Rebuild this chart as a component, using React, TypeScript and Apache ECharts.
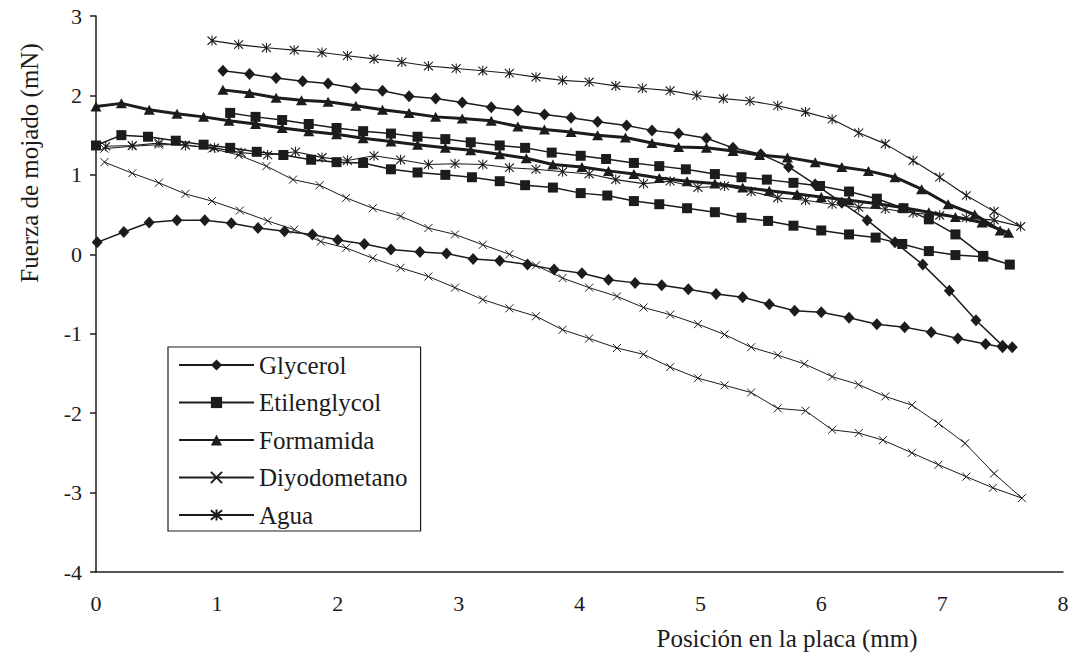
import React, { useEffect, useRef } from 'react';
import * as echarts from 'echarts';

const FONT = 'Liberation Serif';
const INK = '#1c1c1c';

const seriesNames = ['Glycerol', 'Etilenglycol', 'Formamida', 'Diyodometano', 'Agua'];
const yAxisTitle = 'Fuerza de mojado (mN)';
const xAxisTitle = 'Posición en la placa (mm)';

// Glycerol: advancing branch (left -> right), then receding branch (right -> left)
const glycerolLower = [
  [0.01, 0.15], [0.23, 0.28], [0.44, 0.4], [0.67, 0.43], [0.9, 0.43], [1.12, 0.39], [1.34, 0.33], [1.56, 0.29],
  [1.79, 0.25], [2.0, 0.18], [2.22, 0.13], [2.44, 0.06], [2.68, 0.03], [2.9, 0.01], [3.12, -0.06], [3.34, -0.08],
  [3.57, -0.13], [3.79, -0.19], [4.02, -0.24], [4.24, -0.32], [4.46, -0.36], [4.68, -0.39], [4.9, -0.44],
  [5.13, -0.5], [5.35, -0.54], [5.57, -0.63], [5.78, -0.71], [6.0, -0.73], [6.23, -0.8], [6.46, -0.88],
  [6.69, -0.92], [6.91, -0.98], [7.13, -1.06], [7.36, -1.13], [7.5, -1.17], [7.58, -1.17],
];
const glycerolUpper = [
  [7.5, -1.15], [7.28, -0.83], [7.06, -0.46], [6.84, -0.13], [6.61, 0.15], [6.38, 0.43], [6.17, 0.65],
  [5.95, 0.88], [5.73, 1.1], [5.5, 1.26], [5.27, 1.34], [5.05, 1.46], [4.82, 1.52], [4.6, 1.56], [4.39, 1.62],
  [4.15, 1.67], [3.93, 1.72], [3.71, 1.76], [3.49, 1.81], [3.27, 1.85], [3.03, 1.91], [2.81, 1.96], [2.59, 1.99],
  [2.37, 2.06], [2.15, 2.09], [1.92, 2.15], [1.71, 2.18], [1.49, 2.22], [1.27, 2.27], [1.05, 2.31],
];

const etilenglycolLower = [
  [0.0, 1.37], [0.21, 1.5], [0.43, 1.48], [0.66, 1.43], [0.89, 1.38], [1.11, 1.34], [1.33, 1.29], [1.55, 1.25],
  [1.78, 1.19], [1.99, 1.16], [2.21, 1.15], [2.44, 1.07], [2.66, 1.03], [2.89, 1.0], [3.11, 0.97], [3.34, 0.92],
  [3.55, 0.87], [3.78, 0.84], [4.01, 0.77], [4.23, 0.74], [4.45, 0.67], [4.66, 0.63], [4.89, 0.58], [5.12, 0.53],
  [5.34, 0.46], [5.56, 0.42], [5.77, 0.36], [6.0, 0.3], [6.23, 0.25], [6.45, 0.21], [6.67, 0.13], [6.89, 0.04],
  [7.11, -0.01], [7.34, -0.03], [7.56, -0.13],
];
const etilenglycolUpper = [
  [7.34, -0.02], [7.11, 0.25], [6.89, 0.44], [6.68, 0.58], [6.46, 0.7], [6.23, 0.79], [5.99, 0.86], [5.77, 0.9],
  [5.55, 0.94], [5.34, 0.97], [5.12, 1.01], [4.88, 1.07], [4.66, 1.11], [4.45, 1.15], [4.22, 1.2], [4.01, 1.24],
  [3.77, 1.28], [3.55, 1.34], [3.34, 1.37], [3.1, 1.41], [2.89, 1.45], [2.66, 1.48], [2.44, 1.52], [2.21, 1.55],
  [1.99, 1.59], [1.76, 1.64], [1.54, 1.69], [1.32, 1.73], [1.11, 1.78],
];

const formamidaLower = [
  [0.0, 1.86], [0.21, 1.9], [0.44, 1.82], [0.67, 1.77], [0.89, 1.73], [1.1, 1.68], [1.32, 1.64], [1.54, 1.59],
  [1.76, 1.55], [1.99, 1.51], [2.21, 1.46], [2.44, 1.42], [2.66, 1.38], [2.89, 1.34], [3.1, 1.31], [3.34, 1.26],
  [3.56, 1.21], [3.78, 1.13], [4.02, 1.1], [4.24, 1.05], [4.45, 1.01], [4.66, 0.96], [4.89, 0.92], [5.12, 0.89],
  [5.35, 0.84], [5.57, 0.8], [5.8, 0.76], [6.0, 0.72], [6.23, 0.68], [6.45, 0.64], [6.67, 0.59], [6.89, 0.53],
  [7.11, 0.47], [7.33, 0.4], [7.55, 0.27],
];
const formamidaUpper = [
  [7.48, 0.3], [7.27, 0.5], [7.05, 0.63], [6.83, 0.82], [6.61, 0.97], [6.39, 1.05], [6.17, 1.1], [5.95, 1.16],
  [5.72, 1.22], [5.49, 1.25], [5.27, 1.3], [5.05, 1.34], [4.82, 1.35], [4.6, 1.4], [4.38, 1.47], [4.15, 1.5],
  [3.93, 1.54], [3.71, 1.57], [3.49, 1.61], [3.27, 1.68], [3.03, 1.71], [2.81, 1.73], [2.59, 1.78], [2.37, 1.82],
  [2.15, 1.87], [1.92, 1.92], [1.7, 1.94], [1.49, 1.97], [1.27, 2.03], [1.05, 2.07],
];

const diyodometanoLower = [
  [0.07, 1.16], [0.3, 1.02], [0.52, 0.9], [0.74, 0.76], [0.96, 0.67], [1.19, 0.55], [1.42, 0.42], [1.64, 0.31],
  [1.86, 0.16], [2.07, 0.08], [2.29, -0.05], [2.52, -0.17], [2.75, -0.28], [2.97, -0.42], [3.2, -0.57],
  [3.42, -0.68], [3.64, -0.78], [3.86, -0.95], [4.08, -1.06], [4.31, -1.18], [4.53, -1.26], [4.75, -1.42],
  [4.98, -1.56], [5.2, -1.65], [5.42, -1.74], [5.64, -1.94], [5.87, -1.97], [6.09, -2.21], [6.31, -2.25],
  [6.51, -2.34], [6.75, -2.5], [6.97, -2.65], [7.2, -2.8], [7.42, -2.94], [7.66, -3.07],
];
const diyodometanoUpper = [
  [7.43, -2.76], [7.19, -2.38], [6.97, -2.13], [6.75, -1.9], [6.53, -1.79], [6.31, -1.64], [6.09, -1.54],
  [5.86, -1.38], [5.64, -1.27], [5.42, -1.17], [5.2, -1.01], [4.98, -0.88], [4.75, -0.76], [4.53, -0.67],
  [4.31, -0.53], [4.08, -0.42], [3.86, -0.3], [3.64, -0.14], [3.42, 0.0], [3.2, 0.12], [2.97, 0.25], [2.75, 0.33],
  [2.52, 0.48], [2.29, 0.58], [2.07, 0.71], [1.85, 0.87], [1.63, 0.94], [1.41, 1.11], [1.18, 1.25], [0.96, 1.33],
  [0.74, 1.38], [0.52, 1.38], [0.3, 1.36], [0.07, 1.33],
];

const aguaLower = [
  [0.08, 1.36], [0.3, 1.37], [0.52, 1.4], [0.74, 1.37], [0.98, 1.34], [1.2, 1.28], [1.42, 1.25], [1.65, 1.29],
  [1.87, 1.22], [2.08, 1.18], [2.3, 1.24], [2.52, 1.19], [2.75, 1.13], [2.97, 1.14], [3.2, 1.13], [3.42, 1.09],
  [3.64, 1.07], [3.86, 1.04], [4.08, 1.01], [4.3, 0.94], [4.53, 0.89], [4.75, 0.92], [4.98, 0.84], [5.2, 0.86],
  [5.42, 0.79], [5.64, 0.71], [5.87, 0.68], [6.09, 0.63], [6.31, 0.59], [6.53, 0.57], [6.76, 0.52], [6.98, 0.49],
  [7.2, 0.46], [7.43, 0.43], [7.65, 0.35],
];
const aguaUpper = [
  [7.43, 0.54], [7.2, 0.74], [6.98, 0.97], [6.76, 1.18], [6.53, 1.39], [6.31, 1.53], [6.09, 1.7], [5.87, 1.79],
  [5.64, 1.87], [5.41, 1.93], [5.19, 1.96], [4.97, 2.0], [4.75, 2.06], [4.52, 2.09], [4.3, 2.12], [4.08, 2.17],
  [3.86, 2.19], [3.64, 2.23], [3.42, 2.28], [3.2, 2.31], [2.98, 2.34], [2.75, 2.37], [2.53, 2.42], [2.3, 2.46],
  [2.08, 2.5], [1.87, 2.54], [1.64, 2.57], [1.41, 2.6], [1.18, 2.64], [0.96, 2.69],
];

const seriesData = [
  [...glycerolLower, ...glycerolUpper],
  [...etilenglycolLower, ...etilenglycolUpper],
  [...formamidaLower, ...formamidaUpper],
  [...diyodometanoLower, ...diyodometanoUpper],
  [...aguaLower, ...aguaUpper],
];

const CROSS = 'path://M0,0L10,10M10,0L0,10';
const STAR = 'path://M0,1L10,11M10,1L0,11M5,0L5,12';

const seriesStyles = [
  { symbol: 'diamond', symbolSize: [11, 12], width: 1.5, border: 0 },
  { symbol: 'rect', symbolSize: 10, width: 1.5, border: 0 },
  { symbol: 'triangle', symbolSize: [11, 10], width: 3, border: 0 },
  { symbol: CROSS, symbolSize: 8, width: 1, border: 1 },
  { symbol: STAR, symbolSize: [9, 10], width: 1.1, border: 1.1 },
];

export default function App() {
  const ref = useRef<HTMLDivElement>(null);
  useEffect(() => {
    if (!ref.current) return;
    const chart = echarts.init(ref.current, undefined, { renderer: 'svg' });
    const axisLineStyle = { color: INK, width: 1.5 };
    const option = {
      animation: false,
      backgroundColor: '#ffffff',
      textStyle: { fontFamily: FONT },
      grid: { left: 96, right: 14, top: 16, bottom: 85, containLabel: false },
      xAxis: {
        type: 'value', min: 0, max: 8, interval: 1,
        axisLine: { show: true, onZero: false, lineStyle: axisLineStyle },
        axisTick: { show: false },
        splitLine: { show: false },
        axisLabel: { color: INK, fontFamily: FONT, fontSize: 22, margin: 20 },
      },
      yAxis: {
        type: 'value', min: -4, max: 3, interval: 1,
        axisLine: { show: true, onZero: false, lineStyle: axisLineStyle },
        axisTick: { show: true, length: 6, lineStyle: axisLineStyle },
        splitLine: { show: false },
        axisLabel: { color: INK, fontFamily: FONT, fontSize: 22, margin: 14 },
      },
      legend: {
        orient: 'vertical', left: 168, top: 347,
        padding: [5, 13, 3, 10],
        itemWidth: 75, itemHeight: 14, itemGap: 11.5,
        borderColor: INK, borderWidth: 1.2, backgroundColor: '#ffffff',
        selectedMode: false,
        textStyle: { color: INK, fontFamily: FONT, fontSize: 25, lineHeight: 26 },
        data: seriesNames,
      },
      graphic: [
        {
          type: 'text', x: 29, y: 163, rotation: Math.PI / 2,
          style: { text: yAxisTitle, fontFamily: FONT, fontSize: 25, fill: INK, align: 'center', verticalAlign: 'middle' },
        },
        {
          type: 'text', x: 787, y: 638,
          style: { text: xAxisTitle, fontFamily: FONT, fontSize: 25, fill: INK, align: 'center', verticalAlign: 'middle' },
        },
      ],
      series: seriesNames.map((name, i) => ({
        name,
        type: 'line',
        data: seriesData[i],
        symbol: seriesStyles[i].symbol,
        symbolSize: seriesStyles[i].symbolSize,
        showSymbol: true,
        showAllSymbol: true,
        silent: true,
        lineStyle: { color: INK, width: seriesStyles[i].width },
        itemStyle: { color: INK, borderColor: INK, borderWidth: seriesStyles[i].border },
        emphasis: { disabled: true },
      })),
    };
    chart.setOption(option as any);
    return () => chart.dispose();
  }, []);
  return (
    <div
      ref={ref}
      style={{ position: 'fixed', left: 0, top: 0, width: 1077, height: 657, background: '#ffffff' }}
    />
  );
}
